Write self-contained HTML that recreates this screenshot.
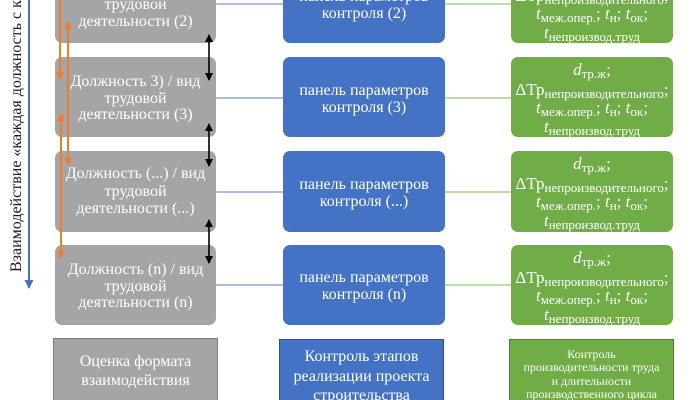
<!DOCTYPE html>
<html><head><meta charset="utf-8"><style>
html,body{margin:0;padding:0;background:#fff;}
svg{display:block;}
text{font-family:"Liberation Serif","DejaVu Serif",serif;}
</style></head><body>
<svg width="696" height="400" viewBox="0 0 696 400" xmlns="http://www.w3.org/2000/svg">
<defs>
<marker id="ob" markerWidth="8" markerHeight="8" refX="7" refY="4" orient="auto" markerUnits="userSpaceOnUse"><path d="M0,0 L8,4 L0,8 z" fill="#ed7d31"/></marker>
<marker id="os" markerWidth="8" markerHeight="8" refX="1" refY="4" orient="auto" markerUnits="userSpaceOnUse"><path d="M8,0 L0,4 L8,8 z" fill="#ed7d31"/></marker>
<marker id="kb" markerWidth="8" markerHeight="8" refX="7" refY="4" orient="auto" markerUnits="userSpaceOnUse"><path d="M0,0 L8,4 L0,8 z" fill="#000"/></marker>
<marker id="ks" markerWidth="8" markerHeight="8" refX="1" refY="4" orient="auto" markerUnits="userSpaceOnUse"><path d="M8,0 L0,4 L8,8 z" fill="#000"/></marker>
<marker id="bb" markerWidth="9" markerHeight="9" refX="8" refY="4.5" orient="auto" markerUnits="userSpaceOnUse"><path d="M0,0 L9,4.5 L0,9 z" fill="#4472c4"/></marker>
</defs>

<!-- connector lines -->
<g stroke-width="1.5">
<line x1="216" y1="4" x2="283" y2="4" stroke="#8faadc"/>
<line x1="216" y1="98" x2="283" y2="98" stroke="#8faadc"/>
<line x1="216" y1="192" x2="283" y2="192" stroke="#8faadc"/>
<line x1="216" y1="285" x2="283" y2="285" stroke="#8faadc"/>
<line x1="445" y1="4" x2="511" y2="4" stroke="#a9d18e"/>
<line x1="445" y1="98" x2="511" y2="98" stroke="#a9d18e"/>
<line x1="445" y1="192" x2="511" y2="192" stroke="#a9d18e"/>
<line x1="445" y1="285" x2="511" y2="285" stroke="#a9d18e"/>
</g>

<!-- gray boxes -->
<g fill="#a5a5a5">
<rect x="55" y="-37" width="161" height="80" rx="7"/>
<rect x="55" y="57" width="161" height="80" rx="7"/>
<rect x="55" y="151" width="161" height="81" rx="7"/>
<rect x="55" y="245" width="161" height="80" rx="7"/>
</g>
<g fill="#fff" font-size="16" text-anchor="middle">
<text x="135.5" y="-8">Должность (2) / вид</text>
<text x="135.5" y="9">трудовой</text>
<text x="135.5" y="26">деятельности (2)</text>
<text x="135.5" y="86">Должность 3) / вид</text>
<text x="135.5" y="103">трудовой</text>
<text x="135.5" y="119">деятельности (3)</text>
<text x="135.5" y="178">Должность (...) / вид</text>
<text x="135.5" y="196">трудовой</text>
<text x="135.5" y="213">деятельности (...)</text>
<text x="135.5" y="274">Должность (n) / вид</text>
<text x="135.5" y="291">трудовой</text>
<text x="135.5" y="307">деятельности (n)</text>
</g>

<!-- blue boxes -->
<g fill="#4472c4">
<rect x="283" y="-37" width="162" height="80" rx="7"/>
<rect x="283" y="57" width="162" height="80" rx="7"/>
<rect x="283" y="151" width="162" height="81" rx="7"/>
<rect x="283" y="245" width="162" height="80" rx="7"/>
</g>
<g fill="#fff" font-size="16" text-anchor="middle">
<text x="364" y="1">панель параметров</text>
<text x="364" y="18">контроля (2)</text>
<text x="364" y="95">панель параметров</text>
<text x="364" y="112">контроля (3)</text>
<text x="364" y="189">панель параметров</text>
<text x="364" y="206">контроля (...)</text>
<text x="364" y="282">панель параметров</text>
<text x="364" y="299">контроля (n)</text>
</g>

<!-- green boxes -->
<g fill="#70ad47">
<rect x="511" y="-37" width="162" height="80" rx="7"/>
<rect x="511" y="57" width="162" height="80" rx="7"/>
<rect x="511" y="151" width="162" height="81" rx="7"/>
<rect x="511" y="245" width="162" height="80" rx="7"/>
</g>
<g fill="#fff" text-anchor="middle" font-size="17">
<!-- box 2 -->
<text x="592" y="-18"><tspan font-style="italic">d</tspan><tspan font-size="13" dy="3">тр.ж</tspan><tspan dy="-3">;</tspan></text>
<text x="592" y="1"><tspan>ΔТр</tspan><tspan font-size="13" dy="3">непроизводительного</tspan><tspan dy="-3">;</tspan></text>
<text x="592" y="19"><tspan font-style="italic">t</tspan><tspan font-size="13" dy="3">меж.опер.</tspan><tspan dy="-3">; </tspan><tspan font-style="italic">t</tspan><tspan font-size="13" dy="3">н</tspan><tspan dy="-3">; </tspan><tspan font-style="italic">t</tspan><tspan font-size="13" dy="3">ок</tspan><tspan dy="-3">;</tspan></text>
<text x="592" y="38"><tspan font-style="italic">t</tspan><tspan font-size="13" dy="3">непроизвод.труд</tspan></text>
<!-- box 3 -->
<text x="592" y="75"><tspan font-style="italic">d</tspan><tspan font-size="13" dy="3">тр.ж</tspan><tspan dy="-3">;</tspan></text>
<text x="592" y="95"><tspan>ΔТр</tspan><tspan font-size="13" dy="3">непроизводительного</tspan><tspan dy="-3">;</tspan></text>
<text x="592" y="113"><tspan font-style="italic">t</tspan><tspan font-size="13" dy="3">меж.опер.</tspan><tspan dy="-3">; </tspan><tspan font-style="italic">t</tspan><tspan font-size="13" dy="3">н</tspan><tspan dy="-3">; </tspan><tspan font-style="italic">t</tspan><tspan font-size="13" dy="3">ок</tspan><tspan dy="-3">;</tspan></text>
<text x="592" y="132"><tspan font-style="italic">t</tspan><tspan font-size="13" dy="3">непроизвод.труд</tspan></text>
<!-- box ... -->
<text x="592" y="169"><tspan font-style="italic">d</tspan><tspan font-size="13" dy="3">тр.ж</tspan><tspan dy="-3">;</tspan></text>
<text x="592" y="189"><tspan>ΔТр</tspan><tspan font-size="13" dy="3">непроизводительного</tspan><tspan dy="-3">;</tspan></text>
<text x="592" y="207"><tspan font-style="italic">t</tspan><tspan font-size="13" dy="3">меж.опер.</tspan><tspan dy="-3">; </tspan><tspan font-style="italic">t</tspan><tspan font-size="13" dy="3">н</tspan><tspan dy="-3">; </tspan><tspan font-style="italic">t</tspan><tspan font-size="13" dy="3">ок</tspan><tspan dy="-3">;</tspan></text>
<text x="592" y="226"><tspan font-style="italic">t</tspan><tspan font-size="13" dy="3">непроизвод.труд</tspan></text>
<!-- box n -->
<text x="592" y="263"><tspan font-style="italic">d</tspan><tspan font-size="13" dy="3">тр.ж</tspan><tspan dy="-3">;</tspan></text>
<text x="592" y="283"><tspan>ΔТр</tspan><tspan font-size="13" dy="3">непроизводительного</tspan><tspan dy="-3">;</tspan></text>
<text x="592" y="301"><tspan font-style="italic">t</tspan><tspan font-size="13" dy="3">меж.опер.</tspan><tspan dy="-3">; </tspan><tspan font-style="italic">t</tspan><tspan font-size="13" dy="3">н</tspan><tspan dy="-3">; </tspan><tspan font-style="italic">t</tspan><tspan font-size="13" dy="3">ок</tspan><tspan dy="-3">;</tspan></text>
<text x="592" y="320"><tspan font-style="italic">t</tspan><tspan font-size="13" dy="3">непроизвод.труд</tspan></text>
</g>

<!-- black double arrows -->
<g stroke="#000" stroke-width="1.6">
<line x1="209" y1="35" x2="209" y2="80" marker-start="url(#ks)" marker-end="url(#kb)"/>
<line x1="209" y1="124" x2="209" y2="166" marker-start="url(#ks)" marker-end="url(#kb)"/>
<line x1="209" y1="220" x2="209" y2="263" marker-start="url(#ks)" marker-end="url(#kb)"/>
</g>

<!-- orange arrows -->
<g stroke="#ed7d31" stroke-width="2" fill="none">
<line x1="60" y1="0" x2="60" y2="79" marker-end="url(#ob)"/>
<line x1="68" y1="22" x2="68" y2="165" marker-start="url(#os)" marker-end="url(#ob)"/>
<line x1="61" y1="114" x2="61" y2="258" marker-start="url(#os)" marker-end="url(#ob)"/>
</g>

<!-- blue vertical arrow -->
<line x1="29" y1="0" x2="29" y2="288" stroke="#4472c4" stroke-width="2" marker-end="url(#bb)"/>

<!-- vertical label -->
<text transform="translate(21,272) rotate(-90)" font-size="16" fill="#1a1a1a">Взаимодействие «каждая должность с каждой»</text>

<!-- bottom rects -->
<rect x="53.5" y="338.5" width="164" height="70" fill="#a5a5a5" stroke="#7c7c7c" stroke-width="1"/>
<rect x="279.5" y="339.5" width="164" height="70" fill="#4472c4" stroke="#2f528f" stroke-width="1"/>
<rect x="509.5" y="339.5" width="164" height="70" fill="#70ad47" stroke="#507e32" stroke-width="1"/>
<g fill="#fff" text-anchor="middle">
<text x="135.5" y="366" font-size="16">Оценка формата</text>
<text x="135.5" y="385" font-size="16">взаимодействия</text>
<text x="361.5" y="361" font-size="16">Контроль этапов</text>
<text x="361.5" y="381" font-size="16">реализации проекта</text>
<text x="361.5" y="400" font-size="16">строительства</text>
<text x="591.5" y="358" font-size="12">Контроль</text>
<text x="591.5" y="371" font-size="12">производительности труда</text>
<text x="591.5" y="385" font-size="12">и длительности</text>
<text x="591.5" y="398" font-size="12">производственного цикла</text>
</g>
</svg>
</body></html>
